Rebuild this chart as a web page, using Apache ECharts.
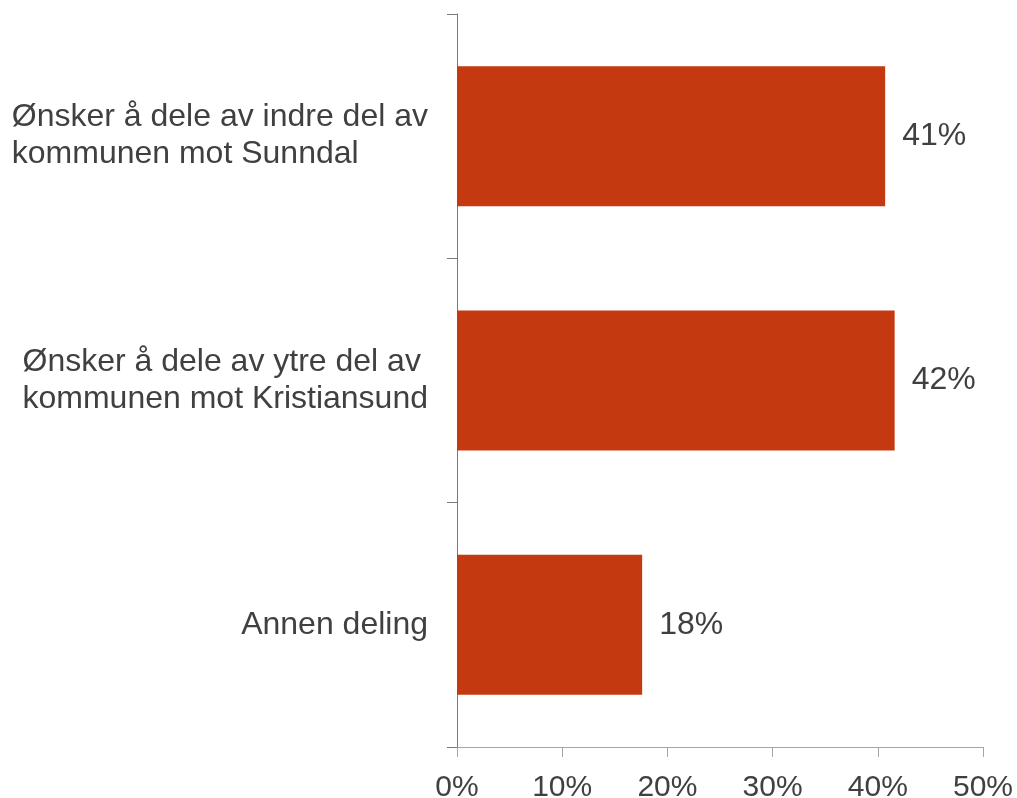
<!DOCTYPE html>
<html>
<head>
<meta charset="utf-8">
<title>Deling av kommunen</title>
<script src="https://cdn.jsdelivr.net/npm/echarts@6/dist/echarts.min.js"></script>
<style>
  html, body { margin: 0; padding: 0; background: #ffffff; }
  #chart { width: 1017px; height: 798px; }
</style>
</head>
<body>
<div id="chart"></div>
<script>
const CATEGORIES = [
  "Ønsker å dele av indre del av\nkommunen mot Sunndal",
  "Ønsker å dele av ytre del av\nkommunen mot Kristiansund",
  "Annen deling"
];
const SHARES = [40.7, 41.6, 17.6];
const AXIS_TICKS = [0, 10, 20, 30, 40, 50];

const FONT = "'Liberation Sans', Arial, sans-serif";
const TEXT_COLOR = "#404040";
const BAR_COLOR = "#C4390F";

const chart = echarts.init(document.getElementById("chart"), null, { renderer: "canvas" });

// block is right-aligned to the axis, lines inside it are left-aligned
function categoryLabel(value) {
  return value.split("\n").map((line) => `{l|${line}}`).join("\n");
}

chart.setOption({
  animation: false,
  backgroundColor: "#ffffff",
  grid: {
    left: 457,
    right: 34,
    top: 14,
    bottom: 51,
    containLabel: false,
    outerBoundsMode: "none"
  },
  xAxis: {
    type: "value",
    min: AXIS_TICKS[0],
    max: AXIS_TICKS[AXIS_TICKS.length - 1],
    interval: AXIS_TICKS[1] - AXIS_TICKS[0],
    splitLine: { show: false },
    axisLine: { show: true, lineStyle: { color: "#a6a6a6", width: 1 } },
    axisTick: { show: true, length: 10, lineStyle: { color: "#a6a6a6", width: 1 } },
    axisLabel: {
      formatter: "{value}%",
      color: TEXT_COLOR,
      fontFamily: FONT,
      fontSize: 30,
      margin: 26
    }
  },
  yAxis: {
    type: "category",
    inverse: true,
    data: CATEGORIES,
    axisLine: { show: true, lineStyle: { color: "#7a7a7a", width: 1 } },
    axisTick: { show: true, length: 10, lineStyle: { color: "#7a7a7a", width: 1 } },
    axisLabel: {
      color: TEXT_COLOR,
      fontFamily: FONT,
      fontSize: 32,
      lineHeight: 37,
      margin: 29,
      align: "right",
      formatter: categoryLabel,
      rich: {
        l: {
          align: "left",
          color: TEXT_COLOR,
          fontFamily: FONT,
          fontSize: 32,
          lineHeight: 37
        }
      }
    }
  },
  series: [
    {
      type: "bar",
      data: SHARES,
      barWidth: 140,
      itemStyle: { color: BAR_COLOR },
      label: {
        show: true,
        position: "right",
        distance: 17,
        color: TEXT_COLOR,
        fontFamily: FONT,
        fontSize: 32,
        formatter: (p) => Math.round(p.value) + "%"
      },
      emphasis: { disabled: true }
    }
  ]
});
</script>
</body>
</html>
